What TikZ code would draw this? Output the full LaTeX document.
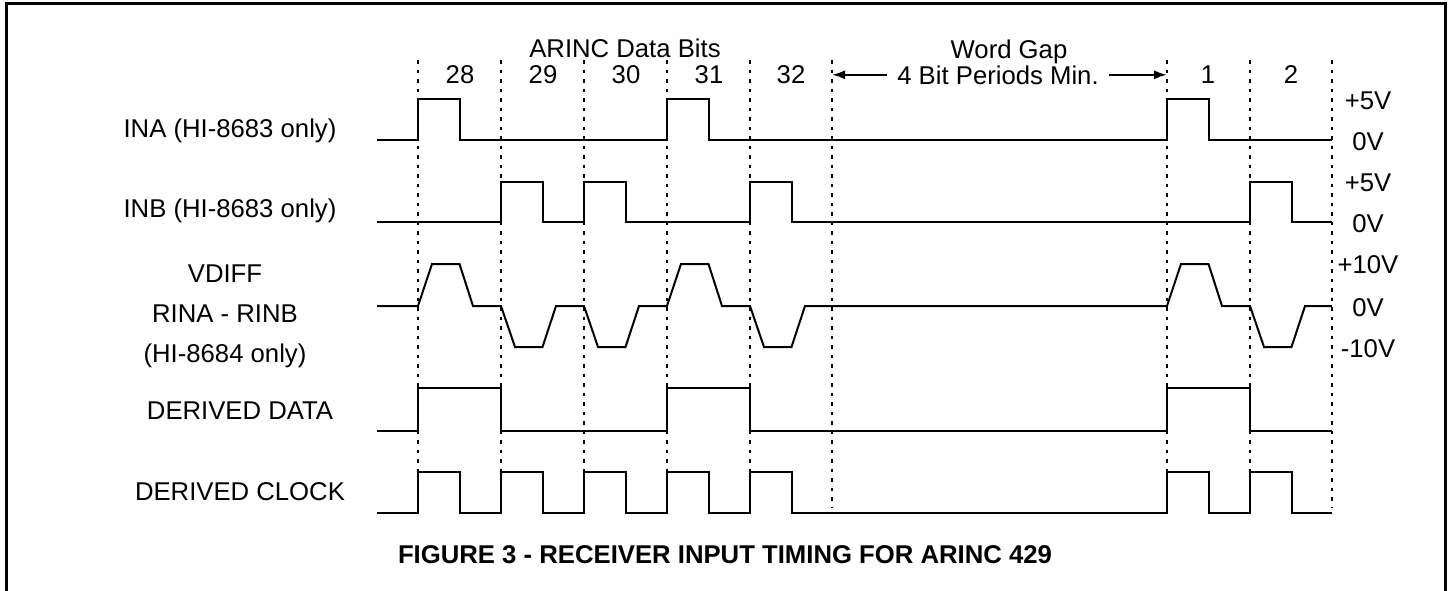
\documentclass[tikz,border=0pt]{standalone}
\usepackage{fontspec}
\setmainfont{Liberation Sans}
\usepackage{tikz}
\usetikzlibrary{arrows.meta}

\newcommand{\sigfont}{\fontsize{12.85pt}{20pt}\selectfont}

\begin{document}
\begin{tikzpicture}[
  x=0.5pt, y=-0.5pt,
  wave/.style={line width=1pt, line join=miter},
  bitline/.style={line width=1pt, dash pattern=on 1.75pt off 3pt},
  frame/.style={line width=1.5pt},
  gaparrow/.style={line width=1pt, -{Latex[length=6.5pt,width=4.5pt]}},
  every node/.style={font=\sigfont, inner sep=0pt, anchor=base, align=center}
  ]
\useasboundingbox (0,0) rectangle (1450,590);

% frame (open at the bottom)
\draw[frame] (6,596) -- (6,3.5) -- (1445.5,3.5) -- (1445.5,596);

% bit boundaries
\foreach \x in {418,501,584,667,750,832,1167,1250,1332}
  \draw[bitline] (\x,60) -- (\x,508);

% headings
\node (bits) at (625,57) {ARINC Data Bits};
\node (gap) at (1009,58) {Word Gap};
\node (b28) at (460,83) {28};
\node (b29) at (543,83) {29};
\node (b30) at (626,83) {30};
\node (b31) at (709,83) {31};
\node (b32) at (791,83) {32};
\node (b1) at (1208,83) {1};
\node (b2) at (1291,83) {2};
\node[inner xsep=5pt] (gapnote) at (998,84) {4 Bit Periods Min.};
\coordinate (gapL) at (832,73);
\coordinate (gapR) at (1167,73);
\draw[gaparrow] (gapnote.west) -- (gapnote.west -| gapL);
\draw[gaparrow] (gapnote.east) -- (gapnote.east -| gapR);

% signal names
\node (ina) at (230,137) {INA (HI-8683 only)};
\node (inb) at (230,217) {INB (HI-8683 only)};
\node (vdiff) at (225,362) {VDIFF\\RINA - RINB\\(HI-8684 only)};
\node (data) at (240,419) {DERIVED DATA};
\node (clock) at (240,500) {DERIVED CLOCK};

% levels
\node (ina5) at (1368,109) {+5V};
\node (ina0) at (1368,150) {0V};
\node (inb5) at (1368,191) {+5V};
\node (inb0) at (1368,232) {0V};
\node (vp10) at (1368,273) {+10V};
\node (v0) at (1368,316) {0V};
\node (vm10) at (1368,357) {-10V};

% INA
\draw[wave] (377,140) -- (418,140) -- (418,99) -- (459.5,99) -- (459.5,140)
  -- (667,140) -- (667,99) -- (708.5,99) -- (708.5,140)
  -- (1167,140) -- (1167,99) -- (1208.5,99) -- (1208.5,140) -- (1332,140);

% INB
\draw[wave] (377,222) -- (501,222) -- (501,182) -- (542.5,182) -- (542.5,222)
  -- (584,222) -- (584,182) -- (625.5,182) -- (625.5,222)
  -- (750,222) -- (750,182) -- (791.5,182) -- (791.5,222)
  -- (1250,222) -- (1250,182) -- (1291.5,182) -- (1291.5,222) -- (1332,222);

% VDIFF
\draw[wave] (377,306) -- (418,306) -- (432,264) -- (459.5,264) -- (473,306)
  -- (501,306) -- (515,347) -- (542.5,347) -- (556,306)
  -- (584,306) -- (598,347) -- (625.5,347) -- (639,306)
  -- (667,306) -- (681,264) -- (708.5,264) -- (722,306)
  -- (750,306) -- (764,347) -- (791.5,347) -- (805,306)
  -- (1167,306) -- (1181,264) -- (1208.5,264) -- (1222,306)
  -- (1250,306) -- (1264,347) -- (1291.5,347) -- (1305,306) -- (1332,306);

% DERIVED DATA
\draw[wave] (377,431) -- (418,431) -- (418,388) -- (501,388) -- (501,431)
  -- (667,431) -- (667,388) -- (750,388) -- (750,431)
  -- (1167,431) -- (1167,388) -- (1250,388) -- (1250,431) -- (1332,431);

% DERIVED CLOCK
\draw[wave] (377,513) -- (418,513) -- (418,472) -- (459.5,472) -- (459.5,513)
  -- (501,513) -- (501,472) -- (542.5,472) -- (542.5,513)
  -- (584,513) -- (584,472) -- (625.5,472) -- (625.5,513)
  -- (667,513) -- (667,472) -- (708.5,472) -- (708.5,513)
  -- (750,513) -- (750,472) -- (791.5,472) -- (791.5,513)
  -- (1167,513) -- (1167,472) -- (1208.5,472) -- (1208.5,513)
  -- (1250,513) -- (1250,472) -- (1291.5,472) -- (1291.5,513) -- (1332,513);

\node[font=\sigfont\bfseries] (caption) at (725,563) {FIGURE 3 - RECEIVER INPUT TIMING FOR ARINC 429};
\end{tikzpicture}
\end{document}
